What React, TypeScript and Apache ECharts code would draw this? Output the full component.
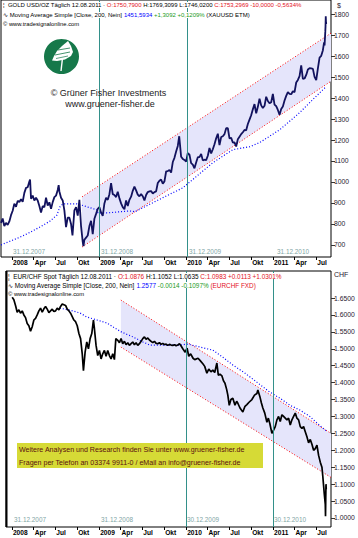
import React, { useEffect, useRef } from "react";
import * as echarts from "echarts";

const FONT = "Liberation Sans, Arial, sans-serif";

// ---------- GOLD (top) ----------
const goldDates = [
  "2007-11-16","2007-11-23","2007-11-30","2007-12-07","2007-12-14","2007-12-21","2007-12-28",
  "2008-01-04","2008-01-11","2008-01-18","2008-01-25","2008-02-01","2008-02-08","2008-02-15","2008-02-22","2008-02-29",
  "2008-03-07","2008-03-14","2008-03-17","2008-03-21","2008-03-28","2008-04-04","2008-04-11","2008-04-18","2008-04-25",
  "2008-05-02","2008-05-09","2008-05-16","2008-05-23","2008-05-30","2008-06-06","2008-06-13","2008-06-20","2008-06-27",
  "2008-07-04","2008-07-11","2008-07-15","2008-07-18","2008-07-25","2008-08-01","2008-08-08","2008-08-15","2008-08-22","2008-08-29",
  "2008-09-05","2008-09-11","2008-09-19","2008-09-26","2008-10-03","2008-10-10","2008-10-17","2008-10-24","2008-10-27","2008-10-31",
  "2008-11-07","2008-11-14","2008-11-21","2008-11-28","2008-12-05","2008-12-12","2008-12-19","2008-12-26",
  "2009-01-02","2009-01-09","2009-01-16","2009-01-23","2009-01-30","2009-02-06","2009-02-13","2009-02-20","2009-02-27",
  "2009-03-06","2009-03-13","2009-03-20","2009-03-27","2009-04-03","2009-04-10","2009-04-17","2009-04-24",
  "2009-05-01","2009-05-08","2009-05-15","2009-05-22","2009-05-29","2009-06-05","2009-06-12","2009-06-19","2009-06-26",
  "2009-07-03","2009-07-10","2009-07-17","2009-07-24","2009-07-31","2009-08-07","2009-08-14","2009-08-21","2009-08-28",
  "2009-09-04","2009-09-11","2009-09-18","2009-09-25","2009-10-02","2009-10-09","2009-10-16","2009-10-23","2009-10-30",
  "2009-11-06","2009-11-13","2009-11-20","2009-11-27","2009-12-03","2009-12-11","2009-12-18","2009-12-25",
  "2010-01-01","2010-01-08","2010-01-15","2010-01-22","2010-01-29","2010-02-05","2010-02-12","2010-02-19","2010-02-26",
  "2010-03-05","2010-03-12","2010-03-19","2010-03-26","2010-04-02","2010-04-09","2010-04-16","2010-04-23","2010-04-30",
  "2010-05-07","2010-05-14","2010-05-21","2010-05-28","2010-06-04","2010-06-11","2010-06-18","2010-06-25",
  "2010-07-02","2010-07-09","2010-07-16","2010-07-23","2010-07-30","2010-08-06","2010-08-13","2010-08-20","2010-08-27",
  "2010-09-03","2010-09-10","2010-09-17","2010-09-24","2010-10-01","2010-10-08","2010-10-15","2010-10-22","2010-10-29",
  "2010-11-05","2010-11-12","2010-11-19","2010-11-26","2010-12-03","2010-12-10","2010-12-17","2010-12-24","2010-12-31",
  "2011-01-07","2011-01-14","2011-01-21","2011-01-28","2011-02-04","2011-02-11","2011-02-18","2011-02-25",
  "2011-03-04","2011-03-11","2011-03-18","2011-03-25","2011-04-01","2011-04-08","2011-04-15","2011-04-22","2011-04-29",
  "2011-05-06","2011-05-13","2011-05-20","2011-05-27","2011-06-03","2011-06-10","2011-06-17","2011-06-24",
  "2011-07-01","2011-07-08","2011-07-15","2011-07-22","2011-07-29","2011-08-03","2011-08-05","2011-08-08","2011-08-09",
  "2011-08-10","2011-08-11","2011-08-12"
];
const goldClose = [
  805,826,790,805,796,812,842,
  863,897,882,910,905,918,906,948,972,
  975,1002,1012,920,935,912,925,912,886,
  855,885,880,925,888,903,872,904,928,
  935,962,985,955,925,912,865,785,830,830,
  800,745,865,880,840,915,790,715,695,725,
  735,745,790,815,752,825,848,872,
  880,855,838,898,925,915,942,995,942,
  938,928,953,922,898,880,870,912,
  886,915,930,958,978,960,940,932,942,
  932,912,938,952,955,957,945,952,955,
  995,1006,1012,992,1003,1050,1052,1057,1045,
  1095,1115,1145,1172,1218,1120,1110,1105,
  1097,1138,1130,1090,1083,1065,1093,1118,1118,
  1134,1103,1106,1104,1125,1162,1136,1156,1180,
  1208,1230,1176,1214,1218,1228,1256,1256,
  1208,1210,1188,1189,1169,1204,1216,1228,1237,
  1248,1246,1276,1297,1318,1346,1371,1327,1358,
  1397,1365,1352,1363,1406,1386,1375,1380,1420,
  1369,1361,1343,1320,1348,1360,1388,1410,
  1428,1420,1418,1432,1428,1474,1486,1504,1556,
  1491,1493,1510,1536,1542,1541,1539,1501,
  1485,1541,1593,1601,1628,1665,1650,1715,1740,
  1790,1760,1752
];
const goldMaDates = [
  "2007-11-16","2008-02-03","2008-03-17","2008-04-28","2008-06-09","2008-07-08","2008-07-20","2008-08-02",
  "2008-09-30","2008-10-04","2008-12-23","2008-12-27","2009-02-07","2009-05-10","2009-05-31","2009-07-20",
  "2009-10-04","2009-12-18","2010-04-23","2010-07-16","2010-09-25","2010-11-06","2011-01-30","2011-04-23",
  "2011-06-17","2011-08-12"
];
const goldMa = [700,737,760,786,814,843,881,896,896,895,867,853,853,862,858,887,930,972,1092,1154,1168,1188,1250,1331,1393,1455];
const goldChannelDates = ["2008-10-21", "2011-09-01"];
const goldUpper = [929, 1709];
const goldLower = [690, 1480];
const goldTicks = [700, 800, 900, 1000, 1100, 1200, 1300, 1400, 1500, 1600, 1700, 1800];
const goldMarkerDates = ["2009-01-01", "2010-01-04"];

// ---------- EUR/CHF (bottom) ----------
const eurDates = [
  "2008-01-02","2008-01-09","2008-01-16","2008-01-23","2008-01-30","2008-02-06","2008-02-13","2008-02-20","2008-02-27",
  "2008-03-05","2008-03-12","2008-03-19","2008-03-26","2008-04-02","2008-04-09","2008-04-16","2008-04-23","2008-04-30",
  "2008-05-07","2008-05-14","2008-05-21","2008-05-28","2008-06-04","2008-06-11","2008-06-18","2008-06-25",
  "2008-07-02","2008-07-09","2008-07-16","2008-07-23","2008-07-30","2008-08-06","2008-08-13","2008-08-20","2008-08-27",
  "2008-09-03","2008-09-10","2008-09-17","2008-09-24","2008-10-01","2008-10-08","2008-10-15","2008-10-22","2008-10-27",
  "2008-11-03","2008-11-10","2008-11-17","2008-11-24","2008-12-01","2008-12-08","2008-12-12","2008-12-19","2008-12-26",
  "2009-01-02","2009-01-09","2009-01-16","2009-01-23","2009-01-30","2009-02-06","2009-02-13","2009-02-20","2009-02-27",
  "2009-03-06","2009-03-12","2009-03-20","2009-03-27","2009-04-03","2009-04-10","2009-04-17","2009-04-24",
  "2009-05-01","2009-05-08","2009-05-15","2009-05-22","2009-05-29","2009-06-05","2009-06-12","2009-06-19","2009-06-26",
  "2009-07-03","2009-07-10","2009-07-17","2009-07-24","2009-07-31","2009-08-07","2009-08-14","2009-08-21","2009-08-28",
  "2009-09-04","2009-09-11","2009-09-18","2009-09-25","2009-10-02","2009-10-09","2009-10-16","2009-10-23","2009-10-30",
  "2009-11-06","2009-11-13","2009-11-20","2009-11-27","2009-12-04","2009-12-11","2009-12-18","2009-12-28",
  "2010-01-05","2010-01-12","2010-01-20","2010-01-30","2010-02-06","2010-02-20","2010-03-01","2010-03-13","2010-03-20",
  "2010-03-29","2010-04-06","2010-04-15","2010-04-23","2010-05-01","2010-05-10","2010-05-16","2010-05-23","2010-05-31",
  "2010-06-07","2010-06-13","2010-06-20","2010-06-25","2010-07-01","2010-07-08","2010-07-16","2010-07-25","2010-08-01",
  "2010-08-06","2010-08-15","2010-08-27","2010-09-05","2010-09-13","2010-09-22","2010-10-04","2010-10-15","2010-10-25",
  "2010-10-29","2010-11-06","2010-11-13","2010-11-19","2010-11-27","2010-12-06","2010-12-12","2010-12-18","2010-12-27",
  "2011-01-03","2011-01-10","2011-01-17","2011-01-24","2011-01-31","2011-02-07","2011-02-14","2011-02-21","2011-02-28",
  "2011-03-07","2011-03-14","2011-03-21","2011-03-28","2011-04-04","2011-04-11","2011-04-18","2011-04-25",
  "2011-05-02","2011-05-09","2011-05-16","2011-05-23","2011-05-30","2011-06-06","2011-06-13","2011-06-20","2011-06-27",
  "2011-07-04","2011-07-11","2011-07-18","2011-07-25","2011-07-29","2011-08-01","2011-08-04","2011-08-08","2011-08-09",
  "2011-08-10","2011-08-11","2011-08-12"
];
const eurClose = [
  1.652,1.645,1.628,1.608,1.615,1.605,1.612,1.600,1.592,
  1.575,1.568,1.552,1.565,1.585,1.590,1.600,1.612,1.620,
  1.608,1.618,1.625,1.617,1.607,1.612,1.617,1.610,
  1.612,1.620,1.615,1.625,1.632,1.630,1.628,1.617,1.612,
  1.605,1.595,1.585,1.580,1.568,1.545,1.530,1.485,1.435,
  1.490,1.520,1.500,1.530,1.545,1.585,1.560,1.510,1.480,
  1.495,1.470,1.485,1.495,1.478,1.495,1.480,1.470,1.485,
  1.468,1.530,1.525,1.518,1.530,1.515,1.522,1.512,
  1.518,1.510,1.515,1.520,1.512,1.518,1.510,1.515,1.522,
  1.530,1.535,1.528,1.532,1.526,1.522,1.518,1.522,1.516,
  1.515,1.518,1.513,1.516,1.512,1.514,1.510,1.513,1.511,
  1.510,1.512,1.509,1.511,1.515,1.508,1.500,1.490,
  1.502,1.478,1.485,1.472,1.468,1.472,1.465,1.455,1.448,
  1.428,1.440,1.432,1.437,1.430,1.458,1.422,1.425,1.420,
  1.405,1.398,1.380,1.363,1.333,1.350,1.354,1.333,1.345,
  1.339,1.325,1.313,1.330,1.335,1.342,1.350,1.363,1.368,
  1.378,1.360,1.340,1.325,1.310,1.283,1.295,1.280,1.250,
  1.260,1.270,1.290,1.300,1.285,1.305,1.300,1.295,1.290,
  1.295,1.275,1.290,1.300,1.310,1.295,1.290,1.270,
  1.265,1.270,1.255,1.240,1.222,1.232,1.218,1.200,1.205,
  1.215,1.185,1.165,1.150,1.120,1.095,1.070,1.040,1.005,
  1.060,1.100,1.085
];
const eurMaDates = [
  "2008-07-20","2008-08-31","2008-10-12","2008-11-10","2008-12-23","2009-02-03","2009-03-08","2009-04-06",
  "2009-05-23","2009-07-04","2009-07-24","2009-08-01","2009-12-05","2010-01-09","2010-02-28","2010-04-23",
  "2010-06-04","2010-07-16","2010-09-05","2010-10-29","2010-12-18","2011-01-30","2011-03-13","2011-04-23",
  "2011-06-04","2011-07-28","2011-08-12"
];
const eurMa = [1.620,1.614,1.606,1.594,1.585,1.576,1.561,1.549,1.535,1.520,1.514,1.511,1.511,1.514,1.505,1.496,1.475,1.452,1.428,1.399,1.372,1.354,1.333,1.319,1.300,1.266,1.258];
const eurChannelDates = ["2009-04-02", "2011-09-01"];
const eurUpper = [1.644, 1.25];
const eurLower = [1.505, 1.12];
const eurTicks = [1.0,1.05,1.1,1.15,1.2,1.25,1.3,1.35,1.4,1.45,1.5,1.55,1.6,1.65];
const eurMarkerDates = ["2010-01-01", "2011-01-01"];

// ---------- shared x axis ----------
const quarterTicks = [
  "2008-01-01","2008-04-01","2008-07-01","2008-10-01","2009-01-01","2009-04-01","2009-07-01","2009-10-01",
  "2010-01-01","2010-04-01","2010-07-01","2010-10-01","2011-01-01","2011-04-01","2011-07-01"
];
const monthNames = ["", "", "", "Apr", "", "", "Jul", "", "", "Okt", "", ""];
const topYearLabels = ["31.12.2007", "31.12.2008", "31.12.2009", "31.12.2010"];
const bottomYearLabels = ["31.12.2007", "31.12.2008", "30.12.2009", "30.12.2010"];

const t = (s: string) => new Date(s + "T00:00:00").getTime();
const zip = (ds: string[], vs: number[]) => ds.map((d, i) => [t(d), vs[i]]);

function xAxisDef(gridIndex: number, min: string) {
  return {
    type: "value",
    gridIndex,
    min: t(min),
    max: t("2011-09-01"),
    axisLine: { show: false },
    splitLine: { show: false },
    axisTick: { show: true, customValues: quarterTicks.map(t), length: 3, lineStyle: { color: "#000" } },
    axisLabel: {
      customValues: quarterTicks.map(t),
      formatter: (v: number) => {
        const d = new Date(v);
        return d.getMonth() === 0 ? String(d.getFullYear()) : monthNames[d.getMonth()];
      },
      align: "left",
      margin: 2,
      padding: [0, 0, 0, 1],
      fontSize: 6.6,
      fontWeight: "bold",
      fontFamily: FONT,
      color: "#000",
      hideOverlap: false,
    },
  };
}

function yAxisDef(gridIndex: number, min: number, max: number, ticks: number[], fmt: (v: number) => string) {
  return {
    type: "value",
    gridIndex,
    position: "right",
    min,
    max,
    axisLine: { show: false },
    splitLine: { show: false },
    axisTick: { show: true, customValues: ticks, length: 4, lineStyle: { color: "#333" } },
    axisLabel: {
      customValues: ticks,
      formatter: fmt,
      margin: 3,
      fontSize: 6.8,
      fontFamily: FONT,
      color: "#2a1830",
    },
  };
}

function bandSeries(idx: number, dates: string[], lower: number[], upper: number[], markers: string[]) {
  return [
    {
      type: "custom",
      xAxisIndex: idx,
      yAxisIndex: idx,
      silent: true,
      clip: true,
      data: dates.map((d, i) => [t(d), lower[i], upper[i]]),
      encode: { x: 0, y: [1, 2] },
      renderItem: (params: any, api: any) => {
        if (params.dataIndex !== 0) return null;
        const pts: number[][] = [];
        for (let i = 0; i < dates.length; i++) pts.push(api.coord([t(dates[i]), upper[i]]));
        for (let i = dates.length - 1; i >= 0; i--) pts.push(api.coord([t(dates[i]), lower[i]]));
        return { type: "polygon", shape: { points: pts }, style: { fill: "#e5e5fb" } };
      },
      markLine: {
        silent: true,
        symbol: "none",
        label: { show: false },
        lineStyle: { color: "#33908a", type: "solid", width: 1, opacity: 1 },
        data: markers.map((m) => ({ xAxis: t(m) })),
      },
    },
    {
      type: "line", xAxisIndex: idx, yAxisIndex: idx, symbol: "none", silent: true,
      data: zip(dates, upper),
      lineStyle: { color: "#ff0000", width: 1, type: [1, 2] },
    },
    {
      type: "line", xAxisIndex: idx, yAxisIndex: idx, symbol: "none", silent: true,
      data: zip(dates, lower),
      lineStyle: { color: "#ff0000", width: 1, type: [1, 2] },
    },
  ];
}

function txt(x: number, y: number, text: string, fontSize: number, fill: string, extra: any = {}) {
  return {
    type: "text",
    z: 100,
    style: { x, y, text, fontSize, fontFamily: FONT, fill, verticalAlign: "middle", ...extra },
  };
}

function richLine(x: number, y: number, text: string, fontSize: number) {
  const part = (fill: string) => ({ fill, fontSize, fontFamily: FONT });
  return {
    type: "text",
    z: 100,
    style: {
      x, y, text, fontSize, fontFamily: FONT, verticalAlign: "middle",
      backgroundColor: "#ffffff",
      rich: { k: part("#000000"), r: part("#e3101c"), b: part("#0000ff"), g: part("#1a9a1a") },
    },
  };
}

export default function App() {
  const ref = useRef<HTMLDivElement>(null);
  useEffect(() => {
    const chart = echarts.init(ref.current!, null, { renderer: "svg" });
    const option: any = {
      animation: false,
      backgroundColor: "#ffffff",
      grid: [
        { left: 1, top: 0, width: 330, height: 257, show: true, borderColor: "#000", borderWidth: 1, backgroundColor: "transparent" },
        { left: 6, top: 271, width: 325, height: 256, show: true, borderColor: "#000", borderWidth: 1, backgroundColor: "transparent" },
      ],
      xAxis: [xAxisDef(0, "2007-11-16"), xAxisDef(1, "2007-12-07")],
      yAxis: [
        yAxisDef(0, 642.6, 1867, goldTicks, (v: number) => String(Math.round(v))),
        yAxisDef(1, 0.9734, 1.7298, eurTicks, (v: number) => v.toFixed(4)),
      ],
      series: [
        ...bandSeries(0, goldChannelDates, goldLower, goldUpper, goldMarkerDates),
        {
          type: "line", xAxisIndex: 0, yAxisIndex: 0, symbol: "none", silent: true,
          data: zip(goldMaDates, goldMa),
          lineStyle: { color: "#0000ff", width: 1.2, type: [1, 2] },
        },
        {
          type: "line", xAxisIndex: 0, yAxisIndex: 0, symbol: "none", silent: true,
          data: zip(goldDates, goldClose),
          lineStyle: { color: "#12125e", width: 1.8 },
        },
        ...bandSeries(1, eurChannelDates, eurLower, eurUpper, eurMarkerDates),
        {
          type: "line", xAxisIndex: 1, yAxisIndex: 1, symbol: "none", silent: true,
          data: zip(eurMaDates, eurMa),
          lineStyle: { color: "#0000ff", width: 1.2, type: [1, 2] },
        },
        {
          type: "line", xAxisIndex: 1, yAxisIndex: 1, symbol: "none", silent: true,
          data: zip(eurDates, eurClose),
          lineStyle: { color: "#000000", width: 1.7 },
        },
      ],
      graphic: [
        richLine(3, 5, "{k|¦  GOLD USD/OZ Täglich 12.08.2011 · }{r|O:1750,7900 }{k|H:1769,3099 L:1746,0200 }{r|C:1753,2969 -10,0000 -0,5634%}", 6.0),
        richLine(3, 15, "{k|∿ Moving Average Simple [Close, 200, Nein] }{b|1451,5934 }{g|+1,3092 +0,1209% }{k|(XAUUSD ETM)}", 6.0),
        txt(3, 24, "© www.tradesignalonline.com", 5.8, "#000", { backgroundColor: "#fff" }),
        txt(337, 5, "$", 7, "#2a1830"),
        { type: "circle", z: 100, shape: { cx: 61.5, cy: 56.5, r: 17.5 }, style: { fill: "#16784a" } },
        {
          type: "polygon", z: 101,
          shape: { points: [[68, 41], [71, 46], [73, 52], [71, 56], [65, 59.5], [57, 61], [52, 60.5], [54, 56], [57, 51], [62, 46]] },
          style: { fill: "#ffffff" },
        },
        { type: "line", z: 102, shape: { x1: 55, y1: 55, x2: 70, y2: 52 }, style: { stroke: "#16784a", lineWidth: 0.8 } },
        { type: "line", z: 102, shape: { x1: 58, y1: 50, x2: 70, y2: 48 }, style: { stroke: "#16784a", lineWidth: 0.8 } },
        { type: "line", z: 102, shape: { x1: 56, y1: 58.5, x2: 68, y2: 56 }, style: { stroke: "#16784a", lineWidth: 0.7 } },
        { type: "line", z: 102, shape: { x1: 62.5, y1: 58, x2: 61, y2: 71 }, style: { stroke: "#ffffff", lineWidth: 1.4 } },
        txt(108.5, 93, "© Grüner Fisher Investments", 9, "#222", { align: "center" }),
        txt(110, 104, "www.gruener-fisher.de", 9, "#222", { align: "center" }),
        txt(13, 251, topYearLabels[0], 6.4, "#7fa6a6"),
        txt(101, 251, topYearLabels[1], 6.4, "#7fa6a6"),
        txt(189, 251, topYearLabels[2], 6.4, "#7fa6a6"),
        txt(277, 251, topYearLabels[3], 6.4, "#7fa6a6"),
        richLine(8, 276, "{k|¦  EUR/CHF Spot Täglich 12.08.2011 · }{r|O:1.0876 }{k|H:1.1052 L:1.0635 }{r|C:1.0983 +0.0113 +1.0301%}", 6.4),
        richLine(8, 285, "{k|∿ Moving Average Simple [Close, 200, Nein] }{b|1.2577 }{g|-0.0014 -0.1097% }{r|(EURCHF FXD)}", 6.4),
        txt(8, 293.5, "© www.tradesignalonline.com", 5.8, "#000", { backgroundColor: "#fff" }),
        txt(334, 274, "CHF", 7, "#2a1830"),
        { type: "line", z: 100, shape: { x1: 6.5, y1: 271, x2: 6.5, y2: 527 }, style: { stroke: "#000", lineWidth: 2 } },
        { type: "rect", z: 100, shape: { x: 17, y: 443, width: 246, height: 25 }, style: { fill: "#d6da36" } },
        txt(19, 449.5, "Weitere Analysen und Research finden Sie unter www.gruener-fisher.de", 7.1, "#5a1010"),
        txt(19, 462.5, "Fragen per Telefon an 03374 9911-0 / eMail an info@gruener-fisher.de", 7.1, "#5a1010"),
        txt(14, 519, bottomYearLabels[0], 6.4, "#7fa6a6"),
        txt(101, 519, bottomYearLabels[1], 6.4, "#7fa6a6"),
        txt(187, 519, bottomYearLabels[2], 6.4, "#7fa6a6"),
        txt(274, 519, bottomYearLabels[3], 6.4, "#7fa6a6"),
      ],
    };
    chart.setOption(option);
    return () => chart.dispose();
  }, []);
  return (
    <div
      ref={ref}
      style={{ position: "fixed", left: 0, top: 0, width: 358, height: 538, background: "#fff" }}
    />
  );
}
